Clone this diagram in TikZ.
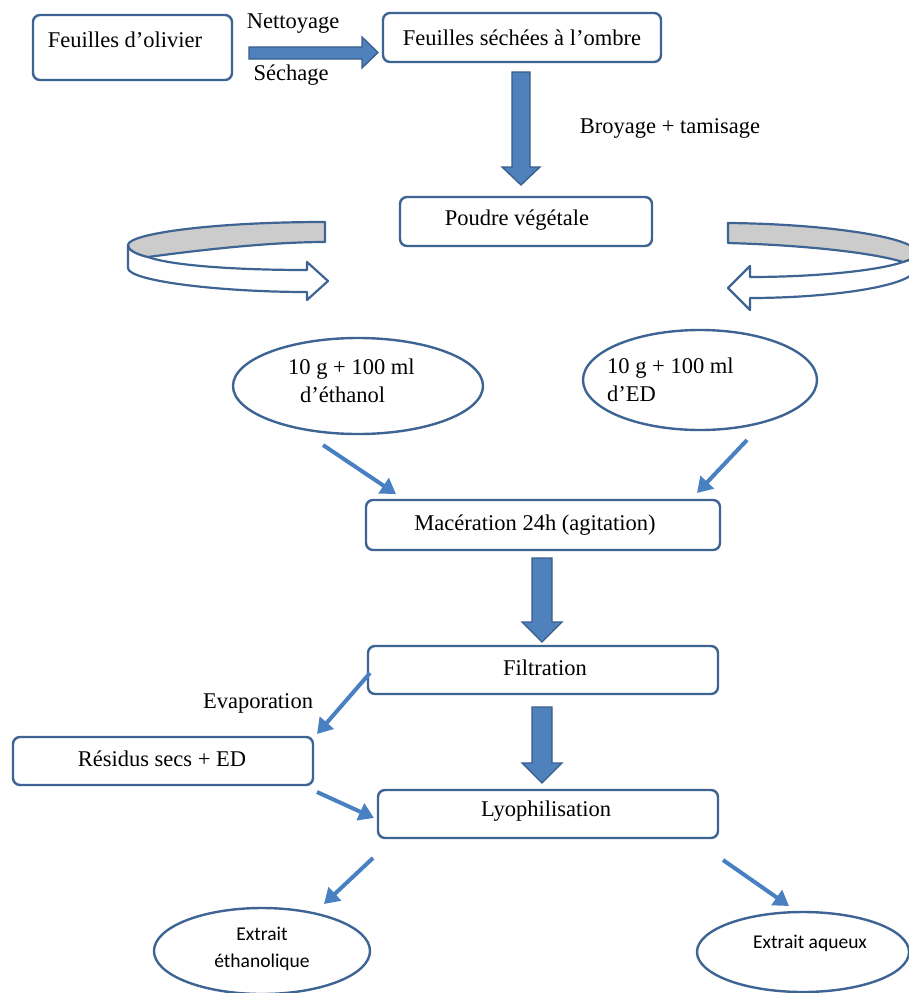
\documentclass[tikz,border=0pt]{standalone}
\usepackage{fontspec}
\setmainfont{Liberation Serif}
\newfontfamily\sansx{Carlito}
\usetikzlibrary{arrows.meta,shapes.geometric}
\definecolor{boxcol}{RGB}{62,100,148}
\definecolor{arrfill}{RGB}{79,129,189}
\definecolor{arrline}{RGB}{56,93,138}
\definecolor{thincol}{RGB}{72,128,194}
\definecolor{bandgray}{RGB}{204,204,204}
\tikzset{
  boxnode/.style={draw=boxcol, line width=2.4pt, rounded corners=7pt, fill=white, inner sep=0pt},
  ellnode/.style={draw=boxcol, line width=2.4pt, ellipse, fill=white, inner sep=0pt},
  txt/.style={font=\fontsize{22.5}{28}\selectfont, inner sep=0pt},
  stxt/.style={font=\sansx\fontsize{19.5}{27}\selectfont, inner sep=0pt},
  blockarr/.style={fill=arrfill, draw=arrline, line width=1.3pt, line join=miter},
  thinarr/.style={draw=thincol, line width=4pt, -{Triangle[length=15pt,width=18pt]}},
  ribbon/.style={draw=boxcol, line width=2.2pt, line join=round},
}
\begin{document}
\begin{tikzpicture}[x=1pt,y=-1pt]
\useasboundingbox (0,0) rectangle (909,993);
\clip (0,0) rectangle (909,993);
\fill[white] (0,0) rectangle (909,993);

% boxes
\node[boxnode, minimum width=199pt, minimum height=65pt] (olive) at (132.5,47.5) {};
\node[txt] (olivet) at (125,40) {Feuilles d’olivier};
\node[boxnode, minimum width=278pt, minimum height=49pt] (dried) at (522,37.5) {};
\node[txt] (driedt) at (522,38) {Feuilles séchées à l’ombre};
\node[boxnode, minimum width=252pt, minimum height=49pt] (powder) at (526,221.5) {};
\node[txt] (powdert) at (517,220) {Poudre végétale};
\node[boxnode, minimum width=354pt, minimum height=50pt] (mac) at (543,525) {};
\node[txt] (mact) at (535,525) {Macération 24h (agitation)};
\node[boxnode, minimum width=350pt, minimum height=48pt] (filt) at (543,670) {};
\node[txt] (filtt) at (545,668) {Filtration};
\node[boxnode, minimum width=300pt, minimum height=48pt] (res) at (163,761) {};
\node[txt] (rest) at (162,759) {Résidus secs + ED};
\node[boxnode, minimum width=340pt, minimum height=48pt] (lyo) at (548,814) {};
\node[txt] (lyot) at (546,811) {Lyophilisation};

% ellipses
\node[ellnode, minimum width=250pt, minimum height=96pt] (eth) at (358,386) {};
\node[txt, align=left, anchor=west] (etht) at (288,381) {10 g + 100 ml\\\hspace{12pt}d’éthanol};
\node[ellnode, minimum width=234pt, minimum height=100pt] (edw) at (700,380) {};
\node[txt, align=left, anchor=west] (edwt) at (607,380) {10 g + 100 ml\\d’ED};
\node[ellnode, minimum width=216pt, minimum height=86pt] (ext1) at (262,951) {};
\node[stxt, align=center] (ext1t) at (262,949) {Extrait\\éthanolique};
\node[ellnode, minimum width=212pt, minimum height=80pt] (ext2) at (803,952) {};
\node[stxt] (ext2t) at (810,943) {Extrait aqueux};

% labels
\node[txt] (lnet) at (293,24) {Nettoyage};
\node[txt] (lsec) at (291,75) {Séchage};
\node[txt] (lbro) at (670,128) {Broyage + tamisage};
\node[txt] (levap) at (258,703) {Evaporation};

% block arrows
\draw[blockarr] (249,47) -- (362,47) -- (362,37) -- (378,52.5) -- (362,68) -- (362,59) -- (249,59) -- cycle;
\draw[blockarr] (512,72) -- (530,72) -- (530,167) -- (540,167) -- (521,185) -- (502,167) -- (512,167) -- cycle;
\draw[blockarr] (532,558) -- (552,558) -- (552,622) -- (562,622) -- (542,642) -- (522,622) -- (532,622) -- cycle;
\draw[blockarr] (532,707) -- (552,707) -- (552,763) -- (562,763) -- (542,783) -- (522,763) -- (532,763) -- cycle;

% curved ribbon arrows
\draw[ribbon, fill=white] (128,245) -- (128,268) .. controls (128,281) and (220,292) .. (307,292) -- (307,300) -- (328,281) -- (307,262) -- (307,270) .. controls (230,270) and (170,265) .. (148,257) .. controls (136,254) and (128,250) .. (128,245) -- cycle;
\draw[ribbon, fill=bandgray] (325,222) .. controls (210,222) and (128,234) .. (128,245) .. controls (128,250) and (136,254) .. (148,257) .. controls (200,250) and (270,242) .. (325,242) -- cycle;

\draw[ribbon, fill=white] (916,252) -- (916,268) .. controls (916,286) and (830,298) .. (750,298) -- (750,310) -- (728,288) -- (750,266) -- (750,277) .. controls (820,277) and (880,270) .. (903,262) .. controls (910,260) and (916,257) .. (916,252) -- cycle;
\draw[ribbon, fill=bandgray] (728,223) .. controls (830,224) and (916,238) .. (916,252) .. controls (916,257) and (910,260) .. (903,262) .. controls (870,252) and (800,245) .. (728,243) -- cycle;

% thin arrows
\coordinate (a1s) at (323,445); \coordinate (a1e) at (396,494);
\coordinate (a2s) at (747,440); \coordinate (a2e) at (697,493);
\coordinate (a3s) at (370,673); \coordinate (a3e) at (317,734);
\coordinate (a4s) at (317,792); \coordinate (a4e) at (374,818);
\coordinate (a5s) at (373,858); \coordinate (a5e) at (324,904);
\coordinate (a6s) at (723,860); \coordinate (a6e) at (789,906);
\draw[thinarr] (a1s) -- (a1e);
\draw[thinarr] (a2s) -- (a2e);
\draw[thinarr] (a3s) -- (a3e);
\draw[thinarr] (a4s) -- (a4e);
\draw[thinarr] (a5s) -- (a5e);
\draw[thinarr] (a6s) -- (a6e);
\end{tikzpicture}
\end{document}
